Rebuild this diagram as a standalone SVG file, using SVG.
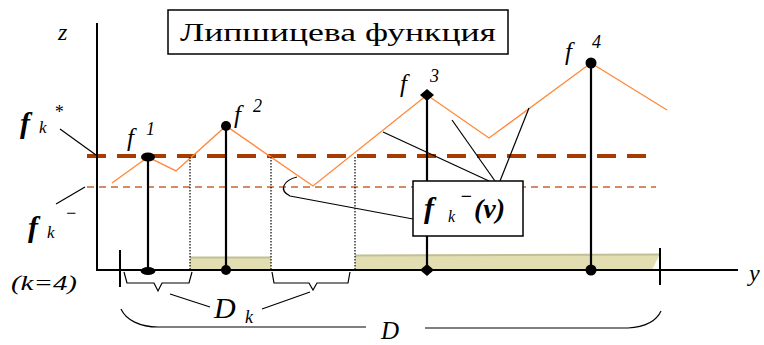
<svg xmlns="http://www.w3.org/2000/svg" width="764" height="345" viewBox="0 0 764 345">
<style>
.ax{stroke:#000;stroke-width:2;fill:none}
.thin{stroke:#000;stroke-width:1.2;fill:none}
.stem{stroke:#000;stroke-width:2.2}
.dot{stroke:#000;stroke-width:1.2;fill:none;stroke-dasharray:1.5 1.5}
.orange{stroke:#ff8a3c;stroke-width:1.4;fill:none}
.fstar{stroke:#a83c00;stroke-width:4;stroke-dasharray:19 11}
.fminus{stroke:#c5652d;stroke-width:1.5;stroke-dasharray:7 5}
.shade{fill:#e2deb2}
.it{font-family:'Liberation Serif','DejaVu Serif',serif;font-style:italic;fill:#000}
.bi{font-family:'Liberation Serif','DejaVu Serif',serif;font-style:italic;font-weight:bold;fill:#000}
.title{font-family:'Liberation Serif','DejaVu Serif',serif;font-size:26px;fill:#000}
</style>
<rect width="764" height="345" fill="#fff"/>
<g id="shading">
<rect class="shade" x="190" y="257" width="81" height="13"/>
<line x1="190" y1="257.5" x2="271" y2="257.5" stroke="#c2bf96" stroke-width="2"/>
<path class="shade" d="M355 255 L660 254 L652 270 L355 270 Z"/>
<line x1="355" y1="255.5" x2="660" y2="254.5" stroke="#c2bf96" stroke-width="2"/>
</g>
<g id="levels">
<line class="fminus" x1="87" y1="187" x2="656" y2="187"/>
<line class="fstar" x1="87" y1="156" x2="654" y2="156"/>
</g>
<g id="axes">
<line class="ax" x1="97" y1="23" x2="97" y2="271"/>
<line class="ax" x1="96" y1="270" x2="738" y2="270"/>
<line class="ax" x1="120" y1="250" x2="120" y2="287"/>
<line class="ax" x1="660" y1="248" x2="660" y2="285"/>
<text class="it" x="58" y="40" font-size="24">z</text>
<text class="it" x="749" y="281" font-size="24">y</text>
</g>
<g id="function">
<polyline class="orange" points="112,183 148,157 176,171 226,126 313,186 427,95 489,138 591,63 667,110"/>
</g>
<g id="dotted">
<line class="dot" x1="190" y1="157" x2="190" y2="270"/>
<line class="dot" x1="271" y1="157" x2="271" y2="270"/>
<line class="dot" x1="355" y1="157" x2="355" y2="270"/>
</g>
<g id="f1">
<line class="stem" x1="148" y1="157" x2="148" y2="270"/>
<ellipse cx="148" cy="157" rx="7" ry="4.5"/>
<ellipse cx="148" cy="271" rx="7.5" ry="4"/>
<text class="it" x="127" y="146" font-size="25">f</text>
<text class="it" x="146" y="135" font-size="18">1</text>
</g>
<g id="f2">
<line class="stem" x1="226" y1="126" x2="226" y2="270"/>
<circle cx="226" cy="126" r="5"/>
<circle cx="226" cy="270" r="5"/>
<text class="it" x="234" y="123" font-size="25">f</text>
<text class="it" x="253" y="112" font-size="18">2</text>
</g>
<g id="f3">
<line class="stem" x1="427" y1="95" x2="427" y2="270"/>
<path d="M427 89 L434 95 L427 101 L420 95 Z"/>
<path d="M427 264 L434 270 L427 276 L420 270 Z"/>
<text class="it" x="400" y="92" font-size="25">f</text>
<text class="it" x="430" y="82" font-size="18">3</text>
</g>
<g id="f4">
<line class="stem" x1="591" y1="63" x2="591" y2="270"/>
<circle cx="591" cy="63" r="5.5"/>
<circle cx="591" cy="270" r="5.5"/>
<text class="it" x="565" y="60" font-size="25">f</text>
<text class="it" x="592" y="48" font-size="18">4</text>
</g>
<g id="title">
<rect x="168" y="10" width="340" height="44" fill="#fff" stroke="#000" stroke-width="1.5"/>
<text class="title" x="180" y="41" textLength="316" lengthAdjust="spacingAndGlyphs">Липшицева функция</text>
</g>
<g id="connectors">
<line class="thin" x1="60" y1="129" x2="96" y2="155"/>
<line class="thin" x1="56" y1="204" x2="85" y2="187"/>
<path class="thin" d="M297 177 C284 180 278 190 290 196 L413 219"/>
<line class="thin" x1="383" y1="132" x2="489" y2="181"/>
<line class="thin" x1="452" y1="120" x2="495" y2="181"/>
<line class="thin" x1="529" y1="108" x2="500" y2="181"/>
<path class="thin" d="M124 272 L127 283 L154 283 L158 291 L162 283 L189 283 L192 272"/>
<path class="thin" d="M272 272 L274 283 L309 283 L313 290 L317 283 L348 283 L350 272"/>
<line class="thin" x1="170" y1="294" x2="210" y2="307"/>
<line class="thin" x1="262" y1="309" x2="310" y2="292"/>
<path class="thin" d="M121 309 C126 320 140 327 158 327 L366 327"/>
<path class="thin" d="M425 328 L628 328 C645 327 656 322 661 311"/>
</g>
<g id="fk-box">
<rect x="413" y="181" width="110" height="55" fill="#fff" stroke="#000" stroke-width="1.5"/>
<text class="bi" x="424" y="218" font-size="30">f</text>
<text class="it" x="448" y="222" font-size="16">k</text>
<text class="bi" x="460" y="203" font-size="20">−</text>
<text class="bi" x="474" y="218" font-size="28">(v)</text>
</g>
<g id="labels">
<text class="bi" x="20" y="133" font-size="30">f</text>
<text class="it" x="39" y="133" font-size="17">k</text>
<text class="it" x="54" y="118" font-size="18">*</text>
<text class="bi" x="28" y="237" font-size="30">f</text>
<text class="it" x="47" y="238" font-size="17">k</text>
<text class="it" x="65" y="219" font-size="18">−</text>
<text class="it" x="11" y="290" font-size="20" textLength="66" lengthAdjust="spacingAndGlyphs">(k=4)</text>
<text class="it" x="214" y="318" font-size="30">D</text>
<text class="it" x="245" y="323" font-size="18">k</text>
<text class="it" x="381" y="339" font-size="25">D</text>
</g>
</svg>
